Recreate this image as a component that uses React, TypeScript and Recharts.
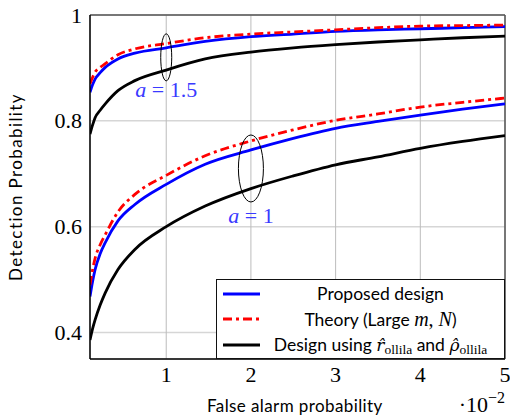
import React from 'react';
import { LineChart, Line, XAxis, YAxis, CartesianGrid, ReferenceDot, ReferenceLine, Legend } from 'recharts';

const falseAlarm = [0.1, 0.13, 0.16, 0.22, 0.28, 0.43, 0.63, 1, 1.46, 2, 2.5, 3, 3.5, 4, 4.5, 5];

// a = 1
const proposedA1 = [0.468, 0.496, 0.519, 0.549, 0.570, 0.611, 0.642, 0.680, 0.718, 0.745, 0.767, 0.786, 0.799, 0.811, 0.822, 0.832];
const theoryA1 = [0.490, 0.518, 0.540, 0.566, 0.585, 0.628, 0.661, 0.697, 0.734, 0.762, 0.783, 0.801, 0.813, 0.826, 0.835, 0.843];
const ollilaA1 = [0.386, 0.407, 0.424, 0.452, 0.475, 0.519, 0.557, 0.600, 0.639, 0.672, 0.696, 0.717, 0.732, 0.748, 0.761, 0.772];

// a = 1.5
const proposedA15 = [0.854, 0.868, 0.879, 0.891, 0.901, 0.917, 0.928, 0.938, 0.950, 0.959, 0.964, 0.969, 0.972, 0.974, 0.976, 0.978];
const theoryA15 = [0.870, 0.882, 0.892, 0.901, 0.908, 0.925, 0.936, 0.946, 0.957, 0.964, 0.968, 0.972, 0.976, 0.979, 0.980, 0.981];
const ollilaA15 = [0.775, 0.792, 0.806, 0.820, 0.832, 0.857, 0.876, 0.896, 0.917, 0.930, 0.938, 0.944, 0.949, 0.953, 0.957, 0.960];

const xTicks = [1, 2, 3, 4, 5];
const yTicks = [0.4, 0.6, 0.8, 1];
const xTickLabels = ['1', '2', '3', '4', '5'];
const yTickLabels = ['0.4', '0.6', '0.8', '1'];

const legendNames = ['Proposed design', 'Theory (Large ', 'Design using '];

// annotation anchors: [x, y]
const ellipseA15 = [1, 0.92];
const ellipseA1 = [2, 0.71];
const labelA15 = [1, 0.859];
const labelA1 = [2, 0.62];

const data = falseAlarm.map((x, i) => ({
  x,
  p1: proposedA1[i],
  t1: theoryA1[i],
  o1: ollilaA1[i],
  p15: proposedA15[i],
  t15: theoryA15[i],
  o15: ollilaA15[i],
}));

const SERIF = '"Liberation Serif", "Times New Roman", serif';
const HATSERIF = '"DejaVu Serif", serif';
const SANS = 'Lato, "DejaVu Sans", sans-serif';
const BLUE = '#0000ff';
const RED = '#ff0000';
const LABEL_BLUE = '#3a3aff';
const DASH = '9 4 3 4';

const XTick = (props: any) => {
  const { x, y, payload } = props;
  const idx = xTicks.indexOf(payload.value);
  return (
    <text x={x} y={y + 15} textAnchor="middle" fontFamily={SERIF} fontSize={22} fill="#000">
      {idx >= 0 ? xTickLabels[idx] : payload.value}
    </text>
  );
};

const YTick = (props: any) => {
  const { x, y, payload } = props;
  const idx = yTicks.indexOf(payload.value);
  return (
    <text x={x} y={y + 7.5} textAnchor="end" fontFamily={SERIF} fontSize={22} fill="#000">
      {idx >= 0 ? yTickLabels[idx] : payload.value}
    </text>
  );
};

const XLabel = (props: any) => {
  const { viewBox } = props;
  const right = viewBox.x + viewBox.width;
  return (
    <g>
      <text
        x={viewBox.x + 117}
        y={viewBox.y + 53}
        textAnchor="start"
        fontFamily={SANS}
        fontSize={17}
        letterSpacing={0.4}
        fill="#000"
      >
        False alarm probability
      </text>
      <text x={right} y={viewBox.y + 53} textAnchor="end" fontFamily={SERIF} fontSize={22} fill="#000">
        <tspan>·10</tspan>
        <tspan dy={-9} fontSize={16}>−2</tspan>
      </text>
    </g>
  );
};

const YLabel = (props: any) => {
  const { viewBox } = props;
  const cy = viewBox.y + viewBox.height / 2;
  const cx = 15;
  return (
    <text
      x={cx}
      y={cy}
      transform={`rotate(-90 ${cx} ${cy})`}
      textAnchor="middle"
      dominantBaseline="central"
      fontFamily={SANS}
      fontSize={17}
      letterSpacing={1.4}
      fill="#000"
    >
      Detection Probability
    </text>
  );
};

const makeEllipse = (rx: number, ry: number) => (props: any) => (
  <ellipse cx={props.cx} cy={props.cy} rx={rx} ry={ry} fill="none" stroke="#000" strokeWidth={1} />
);

const makeLabel = (value: string) => (props: any) => (
  <text x={props.cx} y={props.cy + 7} textAnchor="middle" fontFamily={SERIF} fontSize={22} fill={LABEL_BLUE}>
    <tspan fontStyle="italic">a</tspan>
    <tspan> = {value}</tspan>
  </text>
);

const Hat = ({ ch }: { ch: string }) => (
  <span style={{ fontFamily: HATSERIF, fontStyle: 'italic', fontSize: 17, lineHeight: '20px' }}>{ch + '\u0302'}</span>
);

const Sub = ({ t }: { t: string }) => (
  <span style={{ fontFamily: SERIF, fontSize: 13.5, position: 'relative', top: 3, lineHeight: '14px' }}>{t}</span>
);

const LegendContent = () => {
  const rows = [
    { color: BLUE, dash: undefined as string | undefined, content: <span>{legendNames[0]}</span> },
    {
      color: RED,
      dash: DASH,
      content: (
        <span>
          {legendNames[1]}
          <span style={{ fontFamily: SERIF, fontStyle: 'italic', fontSize: 20 }}>m</span>
          <span style={{ fontFamily: SERIF, fontSize: 20 }}>, </span>
          <span style={{ fontFamily: SERIF, fontStyle: 'italic', fontSize: 20 }}>N</span>)
        </span>
      ),
    },
    {
      color: '#000',
      dash: undefined,
      content: (
        <span>
          {legendNames[2]}
          <Hat ch="r" />
          <Sub t="ollila" /> and <Hat ch="ρ" />
          <Sub t="ollila" />
        </span>
      ),
    },
  ];
  return (
    <div
      style={{
        width: 289,
        height: 80,
        boxSizing: 'border-box',
        border: '1.5px solid #111',
        background: '#fff',
        fontFamily: SANS,
        fontSize: 17.5,
        color: '#000',
        paddingTop: 1,
      }}
    >
      {rows.map((r, i) => (
        <div key={i} style={{ display: 'flex', alignItems: 'center', height: 25.5, lineHeight: '20px' }}>
          <svg width={44} height={10} style={{ flex: '0 0 44px' }}>
            <line x1={6} y1={5} x2={43} y2={5} stroke={r.color} strokeWidth={3} strokeDasharray={r.dash} />
          </svg>
          <div style={{ flex: 1, textAlign: 'center', paddingRight: 4, whiteSpace: 'nowrap' }}>{r.content}</div>
        </div>
      ))}
    </div>
  );
};

export default function App() {
  return (
    <div style={{ position: 'absolute', left: 0, top: 0, width: 510, height: 417, background: '#fff' }}>
      <LineChart width={510} height={417} data={data} margin={{ top: 15, right: 5, bottom: 0, left: 0 }}>
        <CartesianGrid horizontal={true} vertical={false} stroke="#d6d6d6" strokeWidth={1.5} />
        <CartesianGrid horizontal={false} vertical={true} stroke="#bcbcbc" strokeWidth={1} />
        <XAxis
          dataKey="x"
          type="number"
          domain={[0.1, 5]}
          ticks={xTicks}
          allowDataOverflow
          height={58}
          axisLine={{ stroke: '#000', strokeWidth: 1.5 }}
          tickLine={false}
          tick={<XTick />}
          label={<XLabel />}
        />
        <YAxis
          type="number"
          domain={[0.35, 1]}
          ticks={yTicks}
          allowDataOverflow
          width={90}
          axisLine={{ stroke: '#000', strokeWidth: 1.5 }}
          tickLine={false}
          tick={<YTick />}
          label={<YLabel />}
        />
        <ReferenceLine y={1} stroke="#555" strokeWidth={1.5} />
        <ReferenceLine x={5} stroke="#555" strokeWidth={1.5} />

        <Line type="monotone" dataKey="o1" stroke="#000" strokeWidth={2.8} dot={false} isAnimationActive={false} />
        <Line type="monotone" dataKey="p1" stroke={BLUE} strokeWidth={2.8} dot={false} isAnimationActive={false} />
        <Line type="monotone" dataKey="t1" stroke={RED} strokeWidth={2.8} strokeDasharray={DASH} dot={false} isAnimationActive={false} />
        <Line type="monotone" dataKey="o15" stroke="#000" strokeWidth={2.8} dot={false} isAnimationActive={false} />
        <Line type="monotone" dataKey="p15" stroke={BLUE} strokeWidth={2.8} dot={false} isAnimationActive={false} />
        <Line type="monotone" dataKey="t15" stroke={RED} strokeWidth={2.8} strokeDasharray={DASH} dot={false} isAnimationActive={false} />

        <ReferenceDot x={ellipseA15[0]} y={ellipseA15[1]} shape={makeEllipse(5.5, 23.5)} />
        <ReferenceDot x={ellipseA1[0]} y={ellipseA1[1]} shape={makeEllipse(12.5, 33.5)} />
        <ReferenceDot x={labelA15[0]} y={labelA15[1]} shape={makeLabel('1.5')} />
        <ReferenceDot x={labelA1[0]} y={labelA1[1]} shape={makeLabel('1')} />

        <Legend
          layout="horizontal"
          verticalAlign="middle"
          align="center"
          content={<LegendContent />}
          wrapperStyle={{ left: 216, top: 279, width: 289, height: 80 }}
        />
      </LineChart>
    </div>
  );
}
